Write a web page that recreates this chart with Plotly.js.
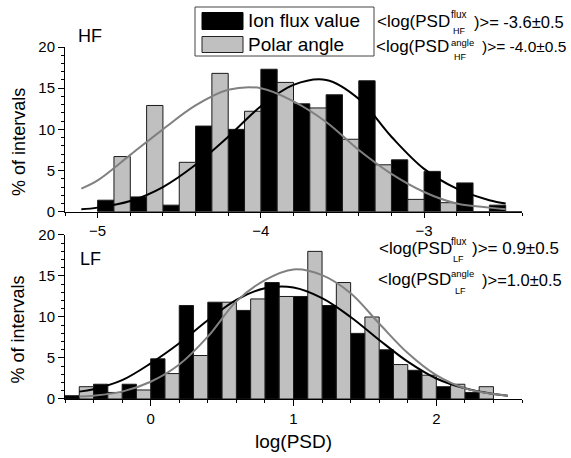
<!DOCTYPE html>
<html>
<head>
<meta charset="utf-8">
<script src="https://cdn.plot.ly/plotly-3.0.1.min.js"></script>
<style>html,body{margin:0;padding:0;background:#fff}#chart{width:571px;height:458px}</style>
</head>
<body>
<div id="chart"></div>
<script>
// ---- Data ----
// HF panel: bin centres (each bin 0.2 wide; flux bar left half, angle bar right half)
var binsHF = [-4.9, -4.7, -4.5, -4.3, -4.1, -3.9, -3.7, -3.5, -3.3, -3.1, -2.9, -2.7, -2.5];
var fluxHF = [1.4, 1.8, 0.8, 10.4, 10.0, 17.3, 13.1, 14.2, 15.9, 6.3, 4.9, 3.5, 0.8];
var angleHF = [6.7, 12.9, 6.0, 16.8, 12.2, 15.7, 12.6, 8.8, 5.7, 1.5, 1.1, 0, 0];
// LF panel
var binsLF = [-0.5, -0.3, -0.1, 0.1, 0.3, 0.5, 0.7, 0.9, 1.1, 1.3, 1.5, 1.7, 1.9, 2.1, 2.3];
var fluxLF = [0.4, 1.8, 1.8, 4.9, 11.4, 11.8, 10.8, 14.2, 12.5, 11.4, 8.0, 6.0, 3.5, 1.5, 0.8];
var angleLF = [1.5, 0.8, 1.1, 3.1, 5.3, 11.8, 12.2, 12.5, 18.0, 14.2, 10.0, 4.2, 2.9, 1.8, 1.5];
// Fitted curves
var fitXHF = [-5.1, -5.0, -4.8, -4.6, -4.4, -4.2, -4.0, -3.8, -3.6, -3.4, -3.2, -3.0, -2.8, -2.6, -2.5];
var fitFluxHF = [0.3, 0.5, 1.3, 3.0, 5.7, 9.1, 12.8, 15.4, 16.0, 13.7, 9.1, 5.2, 2.8, 1.4, 1.0];
var fitAngleHF = [2.8, 3.8, 6.9, 10.0, 12.9, 14.8, 15.0, 13.4, 10.9, 7.5, 4.6, 2.4, 1.0, 0.5, 0.3];
var fitXLF = [-0.5, -0.4, -0.2, 0.0, 0.2, 0.4, 0.6, 0.8, 1.0, 1.2, 1.4, 1.6, 1.8, 2.0, 2.2, 2.4, 2.5];
var fitFluxLF = [0.9, 1.2, 2.3, 4.35, 6.8, 9.6, 12.1, 13.5, 13.6, 12.3, 10.0, 7.2, 4.55, 2.5, 1.3, 0.6, 0.4];
var fitAngleLF = [0.3, 0.4, 0.9, 2.1, 4.2, 7.6, 11.9, 14.5, 15.8, 15.1, 12.9, 9.2, 5.6, 2.9, 1.3, 0.6, 0.4];
var seriesNames = ['Ion flux value', 'Polar angle'];

// ---- Styles ----
var FONT = 'Liberation Sans, Arial, sans-serif';
var BLACK = '#000000', LIGHT = '#c0c0c0', CURVEGRAY = '#808080';

function barTrace(x, y, fill, xa, ya, name) {
  return {type: 'bar', x: x, y: y, xaxis: xa, yaxis: ya, name: name,
    marker: {color: fill, line: {color: '#1a1a1a', width: 1}}, hoverinfo: 'x+y'};
}
function curveTrace(x, y, col, xa, ya, name) {
  return {type: 'scatter', mode: 'lines', x: x, y: y, xaxis: xa, yaxis: ya, name: name,
    line: {color: col, width: 2, shape: 'spline', smoothing: 1}};
}

var data = [
  barTrace(binsHF, fluxHF, BLACK, 'x', 'y', seriesNames[0]),
  barTrace(binsHF, angleHF, LIGHT, 'x', 'y', seriesNames[1]),
  curveTrace(fitXHF, fitFluxHF, BLACK, 'x', 'y', 'flux fit HF'),
  curveTrace(fitXHF, fitAngleHF, CURVEGRAY, 'x', 'y', 'angle fit HF'),
  barTrace(binsLF, fluxLF, BLACK, 'x2', 'y2', seriesNames[0]),
  barTrace(binsLF, angleLF, LIGHT, 'x2', 'y2', seriesNames[1]),
  curveTrace(fitXLF, fitFluxLF, BLACK, 'x2', 'y2', 'flux fit LF'),
  curveTrace(fitXLF, fitAngleLF, CURVEGRAY, 'x2', 'y2', 'angle fit LF')
];

var axisCommon = {
  showline: true, linecolor: '#000', linewidth: 1, mirror: false,
  showgrid: false, zeroline: false,
  ticks: 'outside', ticklen: 6, tickcolor: '#000', tickwidth: 1,
  tickfont: {family: FONT, size: 15, color: '#000'}
};
function ax(extra) { return Object.assign({}, axisCommon, extra); }

// paper-coordinate helpers (plot area: left 65, right 522, top 47, bottom 399)
function px(v) { return (v - 65) / 457; }
function py(v) { return (399 - v) / 352; }

function ann(text, x, y, size) {
  return {text: text, x: px(x), y: py(y), xref: 'paper', yref: 'paper',
    xanchor: 'left', yanchor: 'middle', showarrow: false, borderpad: 0,
    font: {family: FONT, size: size, color: '#000'}};
}

var YTITLE = '% of intervals&nbsp;&nbsp;&nbsp;&nbsp;&nbsp;';

var annotations = [
  ann('HF', 77, 36, 18),
  ann('LF', 79, 259, 18),
  ann(seriesNames[0], 247, 21, 19),
  ann(seriesNames[1], 247, 44.5, 19),
  // HF flux
  ann('&lt;log(PSD', 376, 21.7, 17), ann('flux', 450, 14.5, 10), ann('HF', 452, 30.5, 9),
  ann(')&gt;= -3.6&plusmn;0.5', 473, 21.7, 16.5),
  // HF angle
  ann('&lt;log(PSD', 375, 46.5, 17), ann('angle', 450, 42.5, 9.5), ann('HF', 453, 57, 9),
  ann(')&gt;= -4.0&plusmn;0.5', 481, 46.5, 15.5),
  // LF flux
  ann('&lt;log(PSD', 378, 248.5, 17), ann('flux', 450, 241, 10), ann('LF', 452, 258.5, 9),
  ann(')&gt;= 0.9&plusmn;0.5', 471, 248.5, 17),
  // LF angle
  ann('&lt;log(PSD', 377, 279.5, 17), ann('angle', 450, 273.5, 9.5), ann('LF', 454, 291, 9),
  ann(')&gt;=1.0&plusmn;0.5', 481, 279.5, 16.5)
];

var shapes = [
  {type: 'rect', xref: 'paper', yref: 'paper', x0: px(195), x1: px(374), y0: py(56), y1: py(7),
   line: {color: '#444', width: 1}, fillcolor: 'rgba(0,0,0,0)'},
  {type: 'rect', xref: 'paper', yref: 'paper', x0: px(202), x1: px(243), y0: py(29.5), y1: py(12.5),
   line: {color: '#000', width: 1}, fillcolor: BLACK},
  {type: 'rect', xref: 'paper', yref: 'paper', x0: px(202), x1: px(243), y0: py(52.5), y1: py(36.5),
   line: {color: '#222', width: 1}, fillcolor: LIGHT}
];

var layout = {
  width: 571, height: 458,
  margin: {l: 65, r: 49, t: 47, b: 59},
  paper_bgcolor: '#fff', plot_bgcolor: '#fff',
  showlegend: false,
  barmode: 'group', bargap: 0, bargroupgap: 0,
  font: {family: FONT, color: '#000'},
  xaxis: ax({domain: [0, 1], anchor: 'y', range: [-5.2, -2.4], tick0: -5, dtick: 1, ticklen: 5,
    minor: {tick0: -5.2, dtick: 0.2, ticks: 'outside', ticklen: 3, tickcolor: '#000'}}),
  yaxis: ax({domain: [0.532, 1], anchor: 'x', range: [0, 20], tick0: 0, dtick: 5,
    minor: {dtick: 1, ticks: 'outside', ticklen: 3, tickcolor: '#000'},
    title: {text: YTITLE, font: {family: FONT, size: 18}, standoff: 8}}),
  xaxis2: ax({domain: [0, 1], anchor: 'y2', range: [-0.6, 2.6], tick0: 0, dtick: 1,
    minor: {tick0: -0.6, dtick: 0.2, ticks: 'outside', ticklen: 3, tickcolor: '#000'},
    title: {text: 'log(PSD)', font: {family: FONT, size: 19}, standoff: 8}}),
  yaxis2: ax({domain: [0, 0.466], anchor: 'x2', range: [0, 20], tick0: 0, dtick: 5,
    minor: {dtick: 1, ticks: 'outside', ticklen: 3, tickcolor: '#000'},
    title: {text: YTITLE, font: {family: FONT, size: 18}, standoff: 8}}),
  annotations: annotations,
  shapes: shapes
};

Plotly.newPlot('chart', data, layout, {displayModeBar: false, staticPlot: true});
</script>
</body>
</html>
